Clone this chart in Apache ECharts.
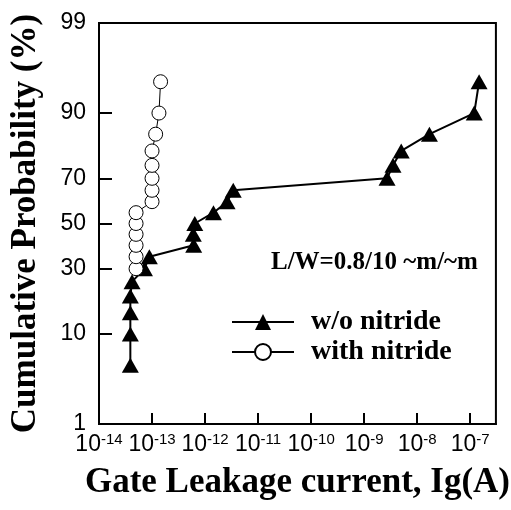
<!DOCTYPE html>
<html>
<head>
<meta charset="utf-8">
<title>Gate leakage cumulative probability</title>
<script src="https://cdn.jsdelivr.net/npm/echarts@6/dist/echarts.min.js"></script>
<style>
  html, body { margin: 0; padding: 0; background: #fff; }
  #chart { width: 511px; height: 510px; }
</style>
</head>
<body>
<div id="chart"></div>
<script>
// w/o nitride: cumulative probability (%) and gate leakage current (A)
const probWithout = [5, 10, 15, 20, 25, 30, 35, 40, 45, 50, 55, 60, 65, 70, 75, 80, 85, 90, 95];
const igWithout = [3.9e-14, 3.9e-14, 3.9e-14, 3.9e-14, 4.2e-14, 7.2e-14, 8.9e-14, 6.1e-13, 6.0e-13, 6.4e-13,
  1.44e-12, 2.6e-12, 3.4e-12, 2.7e-9, 3.5e-9, 5.0e-9, 1.7e-8, 1.19e-7, 1.47e-7];

// with nitride
const probWith = [30, 35, 40, 45, 50, 55, 60, 65, 70, 75, 80, 85, 90, 95];
const igWith = [5.0e-14, 5.0e-14, 5.0e-14, 5.0e-14, 5.0e-14, 5.0e-14, 1.0e-13, 1.0e-13, 1.0e-13, 1.0e-13, 1.0e-13,
  1.17e-13, 1.35e-13, 1.45e-13];

const yTickLabels = [1, 10, 30, 50, 70, 90, 99];
const xTickValues = [1e-14, 1e-13, 1e-12, 1e-11, 1e-10, 1e-9, 1e-8, 1e-7];

const serif = '"Liberation Serif", "Times New Roman", serif';
const sans = 'Liberation Sans';

// inverse of the standard normal cdf (Acklam), used for the probability axis
function probit(p) {
  const a = [-3.969683028665376e+01, 2.209460984245205e+02, -2.759285104469687e+02, 1.383577518672690e+02, -3.066479806614716e+01, 2.506628277459239e+00];
  const b = [-5.447609879822406e+01, 1.615858368580409e+02, -1.556989798598866e+02, 6.680131188771972e+01, -1.328068155288572e+01];
  const c = [-7.784894002430293e-03, -3.223964580411365e-01, -2.400758277161838e+00, -2.549732539343734e+00, 4.374664141464968e+00, 2.938163982698783e+00];
  const d = [7.784695709041462e-03, 3.224671290700398e-01, 2.445134137142996e+00, 3.754408661907416e+00];
  const pl = 0.02425;
  let q, r;
  if (p < pl) {
    q = Math.sqrt(-2 * Math.log(p));
    return (((((c[0] * q + c[1]) * q + c[2]) * q + c[3]) * q + c[4]) * q + c[5]) / ((((d[0] * q + d[1]) * q + d[2]) * q + d[3]) * q + 1);
  }
  if (p > 1 - pl) {
    q = Math.sqrt(-2 * Math.log(1 - p));
    return -(((((c[0] * q + c[1]) * q + c[2]) * q + c[3]) * q + c[4]) * q + c[5]) / ((((d[0] * q + d[1]) * q + d[2]) * q + d[3]) * q + 1);
  }
  q = p - 0.5;
  r = q * q;
  return (((((a[0] * r + a[1]) * r + a[2]) * r + a[3]) * r + a[4]) * r + a[5]) * q / (((((b[0] * r + b[1]) * r + b[2]) * r + b[3]) * r + b[4]) * r + 1);
}

const zTicks = yTickLabels.map(v => probit(v / 100));
const yLabelOf = (v) => {
  let best = 0;
  zTicks.forEach((z, i) => { if (Math.abs(z - v) < Math.abs(zTicks[best] - v)) best = i; });
  return String(yTickLabels[best]);
};

const chart = echarts.init(document.getElementById('chart'));

chart.setOption({
  animation: false,
  grid: {
    left: 95, right: 14, top: 23, bottom: 86,
    show: true,
    borderColor: '#000',
    borderWidth: 2
  },
  legend: {
    orient: 'vertical',
    left: 231,
    top: 308,
    padding: 0,
    itemWidth: 62,
    itemHeight: 20,
    itemGap: 2,
    textStyle: {
      fontFamily: serif, fontWeight: 'bold', fontSize: 28, lineHeight: 28, color: '#000',
      padding: [0, 0, 0, 12]
    },
    data: ['w/o nitride', 'with nitride']
  },
  graphic: [{
    type: 'text',
    left: 271,
    top: 250,
    style: {
      text: 'L/W=0.8/10 ~m/~m',
      fontFamily: serif, fontWeight: 'bold', fontSize: 25, fill: '#000'
    }
  }],
  xAxis: {
    type: 'log',
    logBase: 10,
    min: 1e-14,
    max: 3.05e-7,
    name: 'Gate Leakage current, Ig(A)',
    nameLocation: 'middle',
    nameGap: 41,
    nameTextStyle: { fontFamily: serif, fontWeight: 'bold', fontSize: 35, color: '#000' },
    axisLine: { onZero: false, lineStyle: { color: '#000', width: 2 } },
    axisTick: { inside: true, length: 11, customValues: xTickValues.slice(1), lineStyle: { color: '#000', width: 2 } },
    splitLine: { show: false },
    axisLabel: {
      customValues: xTickValues,
      hideOverlap: false,
      margin: 8,
      color: '#000',
      fontFamily: sans,
      fontSize: 23,
      formatter: (v) => '{base|10}{sup|' + Math.round(Math.log10(v)) + '}',
      rich: {
        base: { fontSize: 23, color: '#000' },
        sup: { fontSize: 15, color: '#000', padding: [0, 0, 11, 0] }
      }
    }
  },
  yAxis: {
    type: 'value',
    min: zTicks[0],
    max: zTicks[zTicks.length - 1],
    name: 'Cumulative Probability (%)',
    nameLocation: 'middle',
    nameGap: 56,
    nameTextStyle: { fontFamily: serif, fontWeight: 'bold', fontSize: 35, color: '#000' },
    axisLine: { lineStyle: { color: '#000', width: 2 } },
    axisTick: { inside: true, length: 13, customValues: zTicks.slice(1, -1), lineStyle: { color: '#000', width: 2 } },
    splitLine: { show: false },
    axisLabel: {
      customValues: zTicks,
      margin: 13,
      color: '#000',
      fontFamily: sans,
      fontSize: 23,
      formatter: yLabelOf
    }
  },
  series: [
    {
      name: 'w/o nitride',
      type: 'line',
      symbol: 'triangle',
      symbolSize: [17, 15],
      itemStyle: { color: '#000' },
      lineStyle: { color: '#000', width: 2 },
      data: igWithout.map((x, i) => [x, probit(probWithout[i] / 100)]),
      z: 2
    },
    {
      name: 'with nitride',
      type: 'line',
      symbol: 'circle',
      symbolSize: 14,
      itemStyle: { color: '#fff', borderColor: '#000', borderWidth: 1 },
      lineStyle: { color: '#000', width: 1 },
      data: igWith.map((x, i) => [x, probit(probWith[i] / 100)]),
      z: 3
    }
  ]
});
</script>
</body>
</html>
